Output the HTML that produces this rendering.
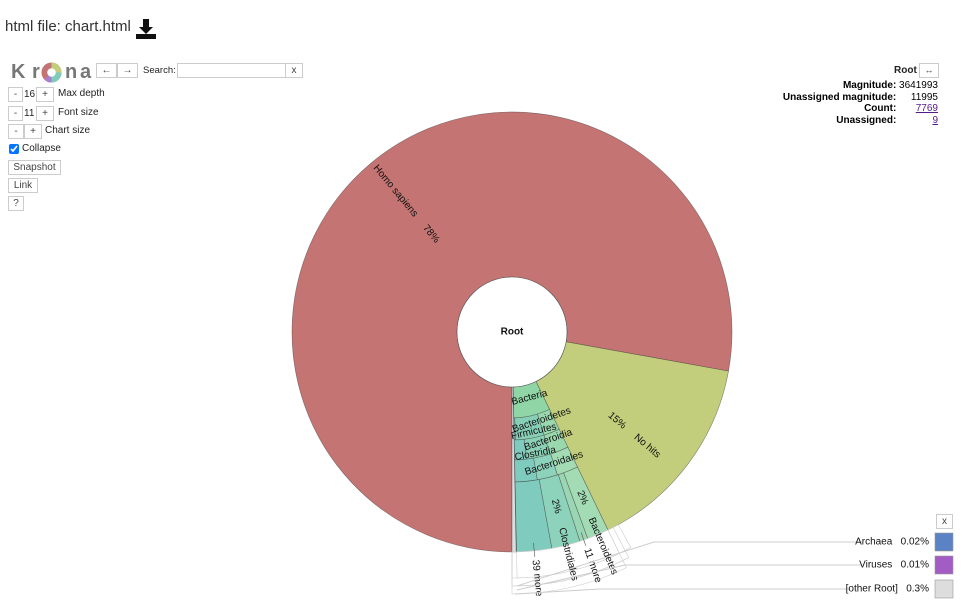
<!DOCTYPE html>
<html><head><meta charset="utf-8">
<style>
body{margin:0;width:962px;height:612px;overflow:hidden;background:#fff;font-family:"Liberation Sans",sans-serif;font-size:11px;color:#000;position:relative}
.abs{position:absolute}
.btn{position:absolute;border:1px solid #ccc;background:#fff;height:14px;line-height:13px;text-align:center;font-size:10px;color:#444;box-sizing:border-box}
.lbl{position:absolute;font-size:11px;color:#222;white-space:nowrap}
.logo{position:absolute;top:61px;font-size:20px;font-weight:bold;color:#777}
#det td{padding:0;font-size:10px;line-height:11.5px;white-space:nowrap}
</style></head><body>
<div class="abs" style="left:5px;top:18px;font-size:15px;color:#333">html file: chart.html</div>
<svg class="abs" style="left:135px;top:18px" width="22" height="22" viewBox="0 0 22 22"><path d="M8 1h6v8h4l-7 7-7-7h4z" fill="#111"/><rect x="1" y="16" width="20" height="5" fill="#111"/></svg>
<div class="logo" style="left:11px">K</div>
<div class="logo" style="left:32px">r</div>
<div class="logo" style="left:65px">n</div>
<div class="logo" style="left:80px">a</div>
<svg class="abs" style="left:41px;top:62px" width="21" height="21" viewBox="-11 -11 22 22"><circle r="10.5" fill="#c47472"/><path d="M0 0L0-10.5A10.5 10.5 0 0 1 10.5 0z" fill="#c2ce7b"/><path d="M0 0L10.5 0A10.5 10.5 0 0 1 0 10.5z" fill="#7fcbbd"/><path d="M0 0L0 10.5A10.5 10.5 0 0 1-7.4 7.4z" fill="#a77ed0"/><circle r="4.5" fill="#fff"/></svg>
<div class="btn" style="left:96px;top:63px;width:21px;height:15px">←</div>
<div class="btn" style="left:117px;top:63px;width:21px;height:15px">→</div>
<div class="lbl" style="left:143px;top:65px;font-size:9.5px">Search:</div>
<div class="btn" style="left:177px;top:63px;width:109px;height:15px"></div>
<div class="btn" style="left:285px;top:63px;width:18px;height:15px">x</div>

<div class="btn" style="left:8px;top:87px;width:15px;height:15px">-</div>
<div class="lbl" style="left:24px;top:89px;font-size:10px">16</div>
<div class="btn" style="left:36px;top:87px;width:18px;height:15px">+</div>
<div class="lbl" style="left:58px;top:88px;font-size:10px">Max depth</div>
<div class="btn" style="left:8px;top:106px;width:15px;height:15px">-</div>
<div class="lbl" style="left:24px;top:108px;font-size:10px">11</div>
<div class="btn" style="left:36px;top:106px;width:18px;height:15px">+</div>
<div class="lbl" style="left:58px;top:107px;font-size:10px">Font size</div>
<div class="btn" style="left:8px;top:124px;width:16px;height:15px">-</div>
<div class="btn" style="left:24px;top:124px;width:18px;height:15px">+</div>
<div class="lbl" style="left:45px;top:125px;font-size:10px">Chart size</div>
<input type="checkbox" checked class="abs" style="left:5px;top:140px;margin:4px;width:10px;height:10px">
<div class="lbl" style="left:22px;top:143px;font-size:10px">Collapse</div>
<div class="btn" style="left:8px;top:160px;width:53px;height:15px;font-size:10px">Snapshot</div>
<div class="btn" style="left:8px;top:178px;width:30px;height:15px;font-size:10px">Link</div>
<div class="btn" style="left:8px;top:196px;width:16px;height:15px">?</div>

<div class="lbl" style="left:894px;top:65px;font-weight:bold;font-size:10px">Root</div>
<div class="btn" style="left:919px;top:63px;width:20px;height:15px;font-size:9px">↔</div>
<table id="det" class="abs" style="right:24px;top:80px;border-collapse:collapse">
<tr><td style="text-align:right;font-weight:bold">Magnitude:</td><td style="text-align:right">&nbsp;3641993</td></tr>
<tr><td style="text-align:right;font-weight:bold">Unassigned magnitude:</td><td style="text-align:right">11995</td></tr>
<tr><td style="text-align:right;font-weight:bold">Count:</td><td style="text-align:right"><u style="color:#551a8b">7769</u></td></tr>
<tr><td style="text-align:right;font-weight:bold">Unassigned:</td><td style="text-align:right"><u style="color:#551a8b">9</u></td></tr>
</table>

<svg class="abs" id="chart" style="left:0;top:0" width="962" height="612"></svg>

<div class="btn" style="left:936px;top:514px;width:17px;height:15px">x</div>

<script>
const topNames=["Homo sapiens","No hits","Bacteria","Archaea","Viruses","[other Root]"];
const topValues=[78.0,15.0,6.87,0.02,0.01,0.3];
const topColors=["#c47472","#c2ce7b","#8fd5a5","#5b82c4","#a35cc4","#dddddd"];
const d2Names=["Bacteroidetes","Firmicutes"];
const d2Values=[2.4,4.3];
const d3Names=["Bacteroidia","Clostridia"];
const d3Values=[2.4,3.0];
const d4Names=["Bacteroidales","Clostridiales"];
const d4Values=[2.3,2.2];
const leafNames=["Bacteroidetes","11 more","Clostridiales","39 more"];
const leafValues=[1.6,0.6,2.1,2.57];
const keyNames=["Archaea","Viruses","[other Root]"];
const keyPercents=["0.02%","0.01%","0.3%"];

const svg=document.getElementById('chart');const NS="http://www.w3.org/2000/svg";
const cx=512,cy=332,R0=55,R=220,startDeg=180;
const total=topValues.reduce((a,b)=>a+b,0);
function ang(v){return v/total*360;}
function pt(r,a){const t=a*Math.PI/180;return [cx+r*Math.sin(t),cy-r*Math.cos(t)];}
function arc(r1,r2,a1,a2,fill,name,stroke){
 const p=document.createElementNS(NS,'path');
 const large=(a2-a1)>180?1:0;
 const [x1,y1]=pt(r2,a1),[x2,y2]=pt(r2,a2),[x3,y3]=pt(r1,a2),[x4,y4]=pt(r1,a1);
 p.setAttribute('d',`M${x1},${y1}A${r2},${r2} 0 ${large} 1 ${x2},${y2}L${x3},${y3}A${r1},${r1} 0 ${large} 0 ${x4},${y4}Z`);
 p.setAttribute('fill',fill);p.setAttribute('stroke',stroke||'rgba(60,60,60,0.6)');p.setAttribute('stroke-width','0.6');
 
 
 svg.appendChild(p);return p;}
function text(x,y,s,rot,anchor,extra){
 const t=document.createElementNS(NS,'text');t.setAttribute('x',x);t.setAttribute('y',y);
 t.setAttribute('font-size','10');t.setAttribute('fill','#111');t.setAttribute('font-family','Liberation Sans, sans-serif');
 t.setAttribute('text-anchor',anchor||'middle');t.setAttribute('dominant-baseline','middle');
 t.style.whiteSpace='pre';
 if(rot!==undefined)t.setAttribute('transform',`rotate(${rot} ${x} ${y})`);
 if(extra)for(const k in extra)t.setAttribute(k,extra[k]);
 t.textContent=s;
 
 
 svg.appendChild(t);return t;}
function line(x1,y1,x2,y2,col,w,name){
 const l=document.createElementNS(NS,'line');l.setAttribute('x1',x1);l.setAttribute('y1',y1);l.setAttribute('x2',x2);l.setAttribute('y2',y2);l.setAttribute('stroke',col);l.setAttribute('stroke-width',w);
 
 
 svg.appendChild(l);}

let a=startDeg;const topStart=[];
topValues.forEach((v,i)=>{const a2=a+ang(v);topStart.push([a,a2]);
 const r2=(i===2)?86:R; arc(R0,r2,a,a2,topColors[i],'wedge-'+topNames[i].toLowerCase().replace(/[^a-z]+/g,'-'));a=a2;});
const bStart=topStart[2][0],bEnd=topStart[2][1];
function ring(names,values,r1,r2,colors){
 let s=bStart;const out=[];
 values.forEach((v,i)=>{const e=s+ang(v);arc(r1,r2,s,e,colors[i%colors.length],'wedge-'+names[i].toLowerCase().replace(/[^a-z0-9]+/g,'-'));out.push([s,e]);s=e;});
 if(s<bEnd-0.05)arc(r1,r2,s,bEnd,'#7fcbbd','wedge-other');
 return out;}
const r2a=ring(d2Names,d2Values,86,108,["#9ad9ae","#86cfb6"]);
const r3a=ring(d3Names,d3Values,108,128,["#9ad9ae","#8bd1b6"]);
const r4a=ring(d4Names,d4Values,128,150,["#a3dcb4","#8dd2bb"]);
const lfa=ring(leafNames,leafValues,150,R,["#a3dcb4","#9ad6b3","#8dd2bb","#7fcbbd"]);

const c=document.createElementNS(NS,'circle');c.setAttribute('cx',cx);c.setAttribute('cy',cy);c.setAttribute('r',R0);
c.setAttribute('fill','#fff');c.setAttribute('stroke','#555');c.setAttribute('stroke-width','0.6');


svg.appendChild(c);
text(cx,cy,'Root',undefined,'middle',{'font-weight':'bold'});

function radialLabel(r,angle,s){const [x,y]=pt(r,angle);let rot=angle-90;if(angle%360>180)rot=angle+90;return text(x,y,s,rot,'middle');}
radialLabel(166,(topStart[0][0]+topStart[0][1])/2+0.3,'Homo sapiens     78%');
radialLabel(160,(topStart[1][0]+topStart[1][1])/2+3,'15%     No hits');
function tangLabel(r,m,s){const [x,y]=pt(r,m);return text(x,y,s,m-180);}
tangLabel(68,bStart+11,'Bacteria');
tangLabel(93,(r2a[0][0]+r2a[0][1])/2+3,d2Names[0]);
tangLabel(102,bStart+13.5,d2Names[1]);
tangLabel(114,(r3a[0][0]+r3a[0][1])/2+3,d3Names[0]);
tangLabel(124,bStart+15,d3Names[1]);
tangLabel(138,(r4a[0][0]+r4a[0][1])/2+4,d4Names[0]);
[0,2].forEach(i=>{const m=(lfa[i][0]+lfa[i][1])/2;const [x,y]=pt(180,m);text(x,y,'2%',m-90);});
const bandEnd=topStart[5][1];
[[R,246],[R,254],[R,262]].forEach((rr,k)=>{arc(rr[0],rr[1],bStart-3+k*1.5,bandEnd,'none','outer-label-band','#ccc');});
arc(R,246,bStart,bEnd,'#fff','outer-label-band-fill','#ccc');
lfa.forEach((rg,i)=>{const m=(rg[0]+rg[1])/2;
 if(i===0||i===2){const [tx,ty]=pt(R-18,m);text(tx,ty,leafNames[i],m-90,'start');}
 else{const [x1,y1]=pt(R-8,m),[x2,y2]=pt(R+6,m);line(x1,y1,x2,y2,'#555',0.6,'leaf-connector');
  const [tx,ty]=pt(R+9,m);text(tx,ty,leafNames[i],m-90,'start');}});
const keyY=[542,565,589];
const elbowX=[654,625,600];
keyNames.forEach((n,i)=>{const y=keyY[i];
 const idx=topNames.indexOf(n);const m=(topStart[idx][0]+topStart[idx][1])/2;const [px,py]=pt(254+i*4,m);
 const pl=document.createElementNS(NS,'polyline');pl.setAttribute('points',`${px},${py} ${elbowX[i]},${y} ${862-(i===2?12:0)},${y}`);
 pl.setAttribute('fill','none');pl.setAttribute('stroke','#ccc');pl.setAttribute('stroke-width','1');
 
 
 svg.appendChild(pl);
 text(929,y,n+'   '+keyPercents[i],undefined,'end');
 const r=document.createElementNS(NS,'rect');r.setAttribute('x',935);r.setAttribute('y',y-9);r.setAttribute('width',18);r.setAttribute('height',18);
 r.setAttribute('fill',topColors[idx]);r.setAttribute('stroke','#999');r.setAttribute('stroke-width','0.6');
 
 
 svg.appendChild(r);});
</script>
</body></html>
